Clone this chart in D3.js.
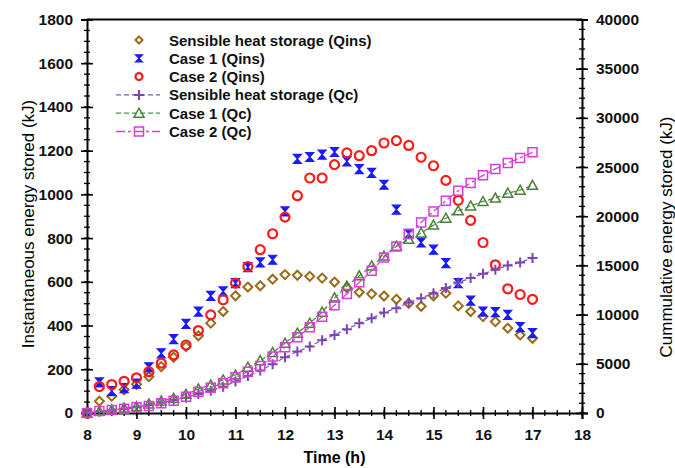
<!DOCTYPE html>
<html>
<head>
<meta charset="utf-8">
<script src="https://cdn.jsdelivr.net/npm/d3@7"></script>
<style>
    body { margin: 0; background: #fff; }
    text { font-family: Arial, "Liberation Sans", sans-serif; }
</style>
</head>
<body>
<svg id="drawing_region"></svg>
<script>
// time axis (h)
const hours = [8, 8.25, 8.5, 8.75, 9, 9.25, 9.5, 9.75, 10, 10.25, 10.5, 10.75, 11, 11.25, 11.5, 11.75,
    12, 12.25, 12.5, 12.75, 13, 13.25, 13.5, 13.75, 14, 14.25, 14.5, 14.75, 15, 15.25, 15.5, 15.75,
    16, 16.25, 16.5, 16.75, 17];

// instantaneous energy stored (kJ), left axis
const sensibleQins = [0, 54, 77, 106, 131, 166, 212, 255, 304, 353, 411, 464, 536, 576, 582, 612,
    633, 630, 625, 617, 599, 573, 552, 545, 535, 520, 502, 488, 536, 548, 490, 464,
    441, 418, 388, 357, 342];
const case1Qins = [0, 140, 100, 114, 134, 209, 273, 338, 408, 464, 536, 556, 594, 667, 689, 701,
    922, 1162, 1171, 1182, 1194, 1151, 1116, 1098, 1044, 930, 820, 780, 747, 686, 594, 514,
    464, 461, 449, 393, 365];
const case2Qins = [0, 121, 130, 145, 161, 189, 228, 266, 311, 377, 449, 518, 594, 670, 747, 820,
    896, 994, 1075, 1075, 1136, 1190, 1177, 1200, 1235, 1246, 1224, 1170, 1131, 1064, 973, 881,
    780, 678, 568, 542, 520];

// cumulative energy stored (kJ), right axis
const sensibleQc = [0, 132, 237, 373, 577, 814, 1052, 1323, 1560, 1934, 2274, 2681, 3190, 3767, 4309, 4954,
    5667, 6242, 6760, 7400, 7940, 8520, 9131, 9640, 10211, 10658, 11229, 11676, 12185, 12694, 13265, 13712,
    14150, 14557, 14995, 15300, 15748];
const case1Qc = [0, 170, 330, 500, 660, 916, 1221, 1494, 1900, 2443, 2850, 3359, 3868, 4652, 5324, 6139,
    7095, 8113, 9131, 10250, 11700, 12900, 13950, 14950, 15950, 16950, 17650, 18300, 19100, 19800, 20550, 21050,
    21500, 21850, 22350, 22650, 23150];
const case2Qc = [0, 204, 305, 440, 577, 712, 984, 1250, 1650, 2170, 2577, 3023, 3634, 4204, 4784, 5731,
    6688, 7706, 8724, 9780, 10950, 12100, 13280, 14450, 15809, 16930, 18192, 19373, 20492, 21582, 22600, 23383,
    24157, 24808, 25419, 25928, 26498];

const seriesNames = ["Sensible heat storage (Qins)", "Case 1 (Qins)", "Case 2 (Qins)",
    "Sensible heat storage (Qc)", "Case 1 (Qc)", "Case 2 (Qc)"];

const xTicks = [8, 9, 10, 11, 12, 13, 14, 15, 16, 17, 18];
const leftTicks = [0, 200, 400, 600, 800, 1000, 1200, 1400, 1600, 1800];
const rightTicks = [0, 5000, 10000, 15000, 20000, 25000, 30000, 35000, 40000];

class DualAxisChart {

    constructor( config ) {
        this.config = config;
        this.init();
    }

    init() {
        let self = this;

        self.svg = d3.select( self.config.parent )
            .attr('width', self.config.width)
            .attr('height', self.config.height);

        const m = self.config.margin;
        self.inner_width = self.config.width - m.left - m.right;
        self.inner_height = self.config.height - m.top - m.bottom;

        self.chart = self.svg.append('g')
            .attr('transform', `translate(${m.left}, ${m.top})`);

        self.xscale = d3.scaleLinear().domain([8, 18]).range([0, self.inner_width]);
        self.yleft = d3.scaleLinear().domain([0, 1800]).range([self.inner_height, 0]);
        self.yright = d3.scaleLinear().domain([0, 40000]).range([self.inner_height, 0]);
    }

    axes() {
        let self = this;
        const h = self.inner_height, w = self.inner_width;
        const fontTick = '15.5px';
        const plain = d3.format('d');

        // minor ticks
        const minorX = d3.range(8, 18.001, 0.25);
        const minorL = d3.range(0, 1800.1, 50);
        const minorR = d3.range(0, 40001, 1000);

        self.chart.append('g').selectAll('line').data(minorX).join('line')
            .attr('x1', d => self.xscale(d)).attr('x2', d => self.xscale(d))
            .attr('y1', h - 3).attr('y2', h + 3)
            .attr('stroke', '#000').attr('stroke-width', 1.3);
        self.chart.append('g').selectAll('line').data(minorL).join('line')
            .attr('x1', -3).attr('x2', 3)
            .attr('y1', d => self.yleft(d)).attr('y2', d => self.yleft(d))
            .attr('stroke', '#000').attr('stroke-width', 1.3);
        self.chart.append('g').selectAll('line').data(minorR).join('line')
            .attr('x1', w - 3).attr('x2', w + 3)
            .attr('y1', d => self.yright(d)).attr('y2', d => self.yright(d))
            .attr('stroke', '#000').attr('stroke-width', 1.3);

        // major axes
        const xg = self.chart.append('g')
            .attr('transform', `translate(0, ${h})`)
            .call(d3.axisBottom(self.xscale).tickValues(xTicks).tickSize(6).tickPadding(10).tickFormat(plain));
        xg.selectAll('.tick line').attr('y1', -6);

        const lg = self.chart.append('g')
            .call(d3.axisLeft(self.yleft).tickValues(leftTicks).tickSize(6).tickPadding(8).tickFormat(plain));
        lg.selectAll('.tick line').attr('x1', 6);

        const rg = self.chart.append('g')
            .attr('transform', `translate(${w}, 0)`)
            .call(d3.axisRight(self.yright).tickValues(rightTicks).tickSize(6).tickPadding(8).tickFormat(plain));
        rg.selectAll('.tick line').attr('x1', -6);

        [xg, lg, rg].forEach( g => {
            g.select('.domain').attr('stroke', '#000').attr('stroke-width', 2);
            g.selectAll('.tick line').attr('stroke', '#000').attr('stroke-width', 1.6);
            g.selectAll('.tick text')
                .attr('fill', '#111')
                .style('font-size', fontTick)
                .style('font-weight', 'bold')
                .style('font-family', 'Arial, "Liberation Sans", sans-serif');
        });

        // top border
        self.chart.append('line')
            .attr('x1', 0).attr('x2', w).attr('y1', 0).attr('y2', 0)
            .attr('stroke', '#000').attr('stroke-width', 2);

        // axis titles
        self.svg.append('text')
            .attr('x', self.config.margin.left + w / 2)
            .attr('y', 463)
            .attr('text-anchor', 'middle')
            .style('font-size', '16px')
            .style('font-weight', 'bold')
            .text('Time (h)');

        self.svg.append('text')
            .attr('transform', 'translate(34, 224) rotate(-90)')
            .attr('text-anchor', 'middle')
            .style('font-size', '17px')
            .text('Instantaneous energy stored (kJ)');

        self.svg.append('text')
            .attr('transform', 'translate(672, 237) rotate(-90)')
            .attr('text-anchor', 'middle')
            .style('font-size', '17px')
            .text('Cummulative energy stored (kJ)');
    }

    render( series ) {
        let self = this;

        series.forEach( s => {
            const yscale = s.axis === 'left' ? self.yleft : self.yright;
            const pts = hours.map( (t, i) => [self.xscale(t), yscale(s.values[i])] );

            if (s.dash) {
                self.chart.append('path')
                    .attr('d', d3.line()(pts))
                    .attr('fill', 'none')
                    .attr('stroke', s.lineColor)
                    .attr('stroke-width', 1.3)
                    .attr('stroke-dasharray', s.dash);
            }

            self.chart.append('g').selectAll('path')
                .data(pts)
                .join('path')
                .attr('transform', d => `translate(${d[0]}, ${d[1]})`)
                .attr('d', s.marker)
                .attr('fill', s.fill)
                .attr('stroke', s.color)
                .attr('stroke-width', s.width);
        });
    }

    legend( series ) {
        let self = this;
        const rowY = [40, 58.3, 76.6, 94.9, 113.2, 131.5];
        const g = self.svg.append('g');

        series.forEach( (s, i) => {
            const y = rowY[i];
            if (s.dash) {
                g.append('line')
                    .attr('x1', 116).attr('x2', 160).attr('y1', y).attr('y2', y)
                    .attr('stroke', s.lineColor)
                    .attr('stroke-width', 1.3)
                    .attr('stroke-dasharray', s.dash);
            }
            g.append('path')
                .attr('transform', `translate(139, ${y})`)
                .attr('d', s.legendMarker || s.marker)
                .attr('fill', s.fill)
                .attr('stroke', s.color)
                .attr('stroke-width', s.width);
            g.append('text')
                .attr('x', 169)
                .attr('y', y + 5.5)
                .style('font-size', '15px')
                .style('font-weight', 'bold')
                .attr('fill', '#111')
                .text(seriesNames[i]);
        });
    }
}

const diamond = 'M0,-4.5L4.5,0L0,4.5L-4.5,0Z';
const hourglass = 'M-4,-4.5L4,-4.5L-4,4.5L4,4.5Z';
const circle = 'M4.5,0A4.5,4.5,0,1,1,-4.5,0A4.5,4.5,0,1,1,4.5,0Z';
const plus = 'M-5,0H5M0,-5V5';
const triangle = 'M0,-5L5,4L-5,4Z';
const square = 'M-4.5,-4.5H4.5V4.5H-4.5Z';

const series = [
    { values: sensibleQins, axis: 'left', marker: diamond, color: '#9a6a18', fill: 'none', width: 2,
      legendMarker: 'M0,-3.5L3.5,0L0,3.5L-3.5,0Z' },
    { values: case1Qins, axis: 'left', marker: hourglass, color: '#1a1aff', fill: '#1a1aff', width: 1.2,
      legendMarker: 'M-3.5,-3.5L3.5,-3.5L-3.5,3.5L3.5,3.5Z' },
    { values: case2Qins, axis: 'left', marker: circle, color: '#ff1a1a', fill: 'none', width: 2.2,
      legendMarker: 'M3.5,0A3.5,3.5,0,1,1,-3.5,0A3.5,3.5,0,1,1,3.5,0Z' },
    { values: sensibleQc, axis: 'right', marker: plus, color: '#7b45b5', fill: 'none', width: 2,
      dash: '5,3', lineColor: '#8a55c0' },
    { values: case1Qc, axis: 'right', marker: triangle, color: '#4f7d3a', fill: 'none', width: 1.5,
      dash: '5,3', lineColor: '#3c9a3c' },
    { values: case2Qc, axis: 'right', marker: square, color: '#d63fd6', fill: 'none', width: 1.5,
      dash: '9,3,3,3', lineColor: '#d63fd6' },
];

const config = {
    parent: '#drawing_region',
    width: 675,
    height: 468,
    margin: {top: 19.5, right: 93, bottom: 55, left: 87},
};

const chart = new DualAxisChart( config );
chart.axes();
chart.render( series );
chart.legend( series );
</script>
</body>
</html>
